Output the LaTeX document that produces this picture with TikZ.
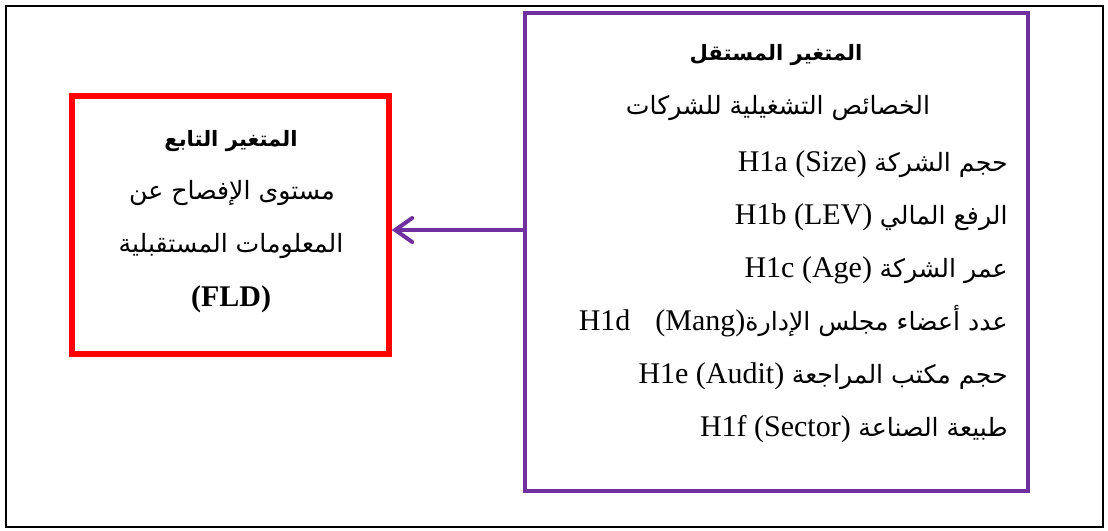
\documentclass[tikz,border=0pt]{standalone}
\usepackage{fontspec}
\setmainfont{Liberation Serif}
\newfontfamily\arabicfont[Script=Arabic,Scale=0.84]{DejaVu Sans}
\TeXXeTstate=1
\usetikzlibrary{arrows.meta}
\definecolor{frpurple}{HTML}{7030A0}
\definecolor{frred}{HTML}{FF0000}
\newcommand{\artxt}[1]{{\arabicfont\beginR #1\endR}}
\begin{document}
\begin{tikzpicture}[x=0.5pt,y=-0.5pt,
  txt/.style={inner sep=0pt, font=\fontsize{15}{18}\selectfont},
  ttl/.style={inner sep=0pt, font=\fontsize{12.6}{16}\selectfont\bfseries},
  boxred/.style={draw=frred, line width=2.75pt, inner sep=0pt, minimum width=158.5pt, minimum height=129pt},
  boxpurple/.style={draw=frpurple, line width=2.25pt, inner sep=0pt, minimum width=251.5pt, minimum height=239pt},
  arr/.style={draw=frpurple, line width=2pt, line cap=round, -{Straight Barb[length=8.5pt,width=12pt,line cap=round]}}]
\useasboundingbox (0,0) rectangle (1108,530);
\draw[line width=1.1pt] (6,6) rectangle (1103,527);
\node[boxred] (dep) at (230.5,225) {};
\node[boxpurple] (indep) at (776.5,252) {};
\path (indep.west) ++(0,-22) coordinate (a);
\draw[arr] (a) -- (a -| dep.east);
% dependent variable text
\node[ttl, anchor=base] (d1) at (231,146) {\artxt{المتغير التابع}};
\node[txt, anchor=base] (d2) at (232,199) {\artxt{مستوى الإفصاح عن}};
\node[txt, anchor=base] (d3) at (231,252) {\artxt{المعلومات المستقبلية}};
\node[txt, anchor=base] (d4) at (231,306) {\bfseries (FLD)};
% independent variable text
\node[ttl, anchor=base] (i1) at (776,61) {\artxt{المتغير المستقل}};
\node[txt, anchor=base] (i2) at (778,114) {\artxt{الخصائص التشغيلية للشركات}};
\node[txt, anchor=base east] (h1) at (1008,171) {H1a (Size) \artxt{حجم الشركة}};
\node[txt, anchor=base east] (h2) at (1008,224) {H1b (LEV) \artxt{الرفع المالي}};
\node[txt, anchor=base east] (h3) at (1008,277) {H1c (Age) \artxt{عمر الشركة}};
\node[txt, anchor=base east] (h4) at (1008,330) {H1d\hspace{12.5pt}(Mang)\artxt{عدد أعضاء مجلس الإدارة}};
\node[txt, anchor=base east] (h5) at (1008,383) {H1e (Audit) \artxt{حجم مكتب المراجعة}};
\node[txt, anchor=base east] (h6) at (1008,436) {H1f (Sector) \artxt{طبيعة الصناعة}};
\end{tikzpicture}
\end{document}
